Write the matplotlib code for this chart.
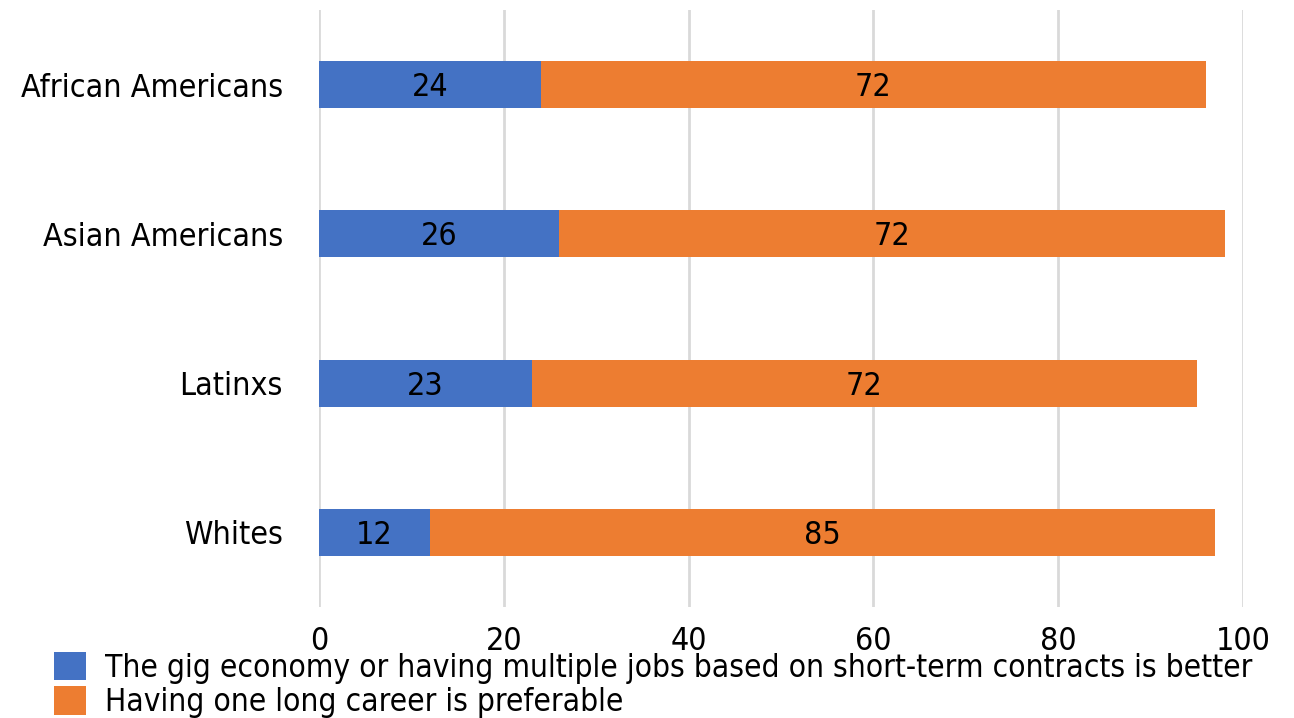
import numpy as np
import matplotlib.pyplot as plt

# data (top to bottom as shown)
groups = ['African Americans', 'Asian Americans', 'Latinxs', 'Whites']
gig = [24, 26, 23, 12]
career = [72, 72, 72, 85]
series_names = ['The gig economy or having multiple jobs based on short-term contracts is better',
                'Having one long career is preferable']
xticks = [0, 20, 40, 60, 80, 100]

blue = '#4472C4'
orange = '#ED7D31'

plt.rcParams['font.family'] = 'DejaVu Sans'
plt.rcParams['font.stretch'] = 'condensed'
fs = 23

fig = plt.figure(figsize=(12.94, 7.18), dpi=100)
ax = fig.add_axes([319 / 1294, 1 - 607 / 718, (1243 - 319) / 1294, (607 - 10) / 718])

y = np.arange(len(groups))
h = 0.315
b1 = ax.barh(y, gig, height=h, color=blue, label=series_names[0], zorder=3)
b2 = ax.barh(y, career, left=gig, height=h, color=orange, label=series_names[1], zorder=3)

for vals, lefts in [(gig, [0] * 4), (career, gig)]:
    for yy, v, l in zip(y, vals, lefts):
        ax.text(l + v / 2, yy + 0.02, str(v), ha='center', va='center', fontsize=fs, color='black', zorder=4)

ax.set_ylim(len(groups) - 0.5, -0.5)
ax.set_xlim(0, 100)
ax.set_xticks(xticks)
ax.set_xticklabels([str(t) for t in xticks], fontsize=fs)
ax.set_yticks(y)
ax.set_yticklabels(groups, fontsize=fs)
ax.tick_params(axis='both', length=0)
ax.tick_params(axis='x', pad=14)
ax.tick_params(axis='y', pad=26)
ax.xaxis.grid(True, color='#D9D9D9', linewidth=2, zorder=0)
for s in ax.spines.values():
    s.set_visible(False)

fig.legend(loc='lower left', bbox_to_anchor=(26 / 1294, -0.04), frameon=False, fontsize=22.7,
           handlelength=1.0, handleheight=1.0, handletextpad=0.6, labelspacing=0.08)

fig.savefig('out.png', dpi=100)
